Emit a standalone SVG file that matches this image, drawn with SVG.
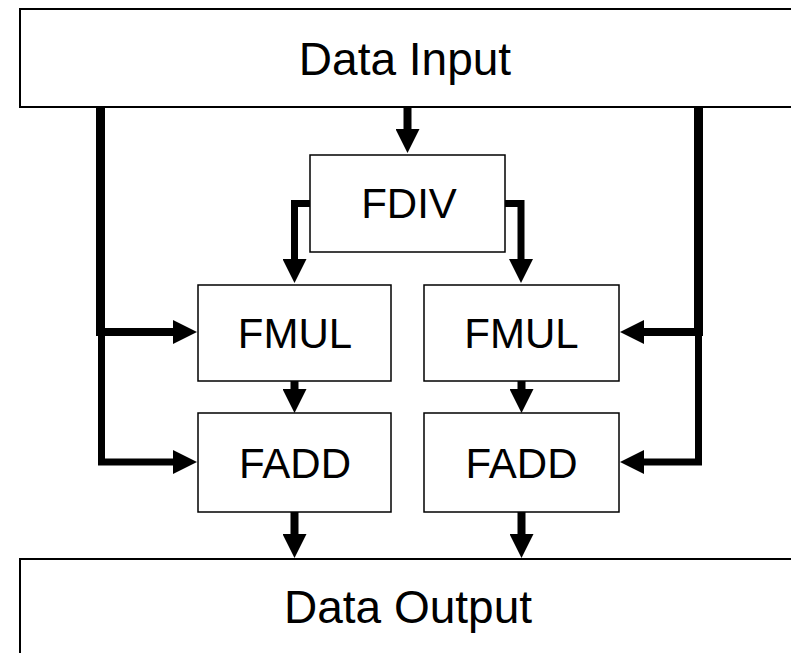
<svg xmlns="http://www.w3.org/2000/svg" width="791" height="653" viewBox="0 0 791 653">
  <style>
    .bus { fill: #fff; stroke: #000; stroke-width: 2; }
    .unit { fill: #fff; stroke: #000; stroke-width: 1.5; }
    .label { font-family: "Liberation Sans", Arial, sans-serif; fill: #000; text-anchor: middle; }
    .big { font-size: 46px; }
    .small { font-size: 42px; }
    .wire { fill: none; stroke: #000; stroke-linejoin: miter; stroke-linecap: butt; }
  </style>
  <defs>
    <marker id="head" viewBox="0 0 24 24" refX="2" refY="12" markerWidth="24" markerHeight="24" markerUnits="userSpaceOnUse" orient="auto">
      <path d="M0,0 L24,12 L0,24 z" fill="#000"/>
    </marker>
  </defs>
  <rect width="791" height="653" fill="#fff"/>

  <g id="data-input">
    <rect class="bus" x="20" y="9" width="790" height="98"/>
    <text class="label big" x="405" y="75">Data Input</text>
  </g>
  <g id="data-output">
    <rect class="bus" x="20" y="559" width="790" height="110"/>
    <text class="label big" x="408" y="623">Data Output</text>
  </g>
  <g id="fdiv">
    <rect class="unit" x="310" y="155" width="195" height="97"/>
    <text class="label small" x="409" y="218">FDIV</text>
  </g>
  <g id="fmul-left">
    <rect class="unit" x="198" y="285" width="193" height="96"/>
    <text class="label small" x="295" y="348">FMUL</text>
  </g>
  <g id="fmul-right">
    <rect class="unit" x="424" y="285" width="195" height="96"/>
    <text class="label small" x="521.5" y="348">FMUL</text>
  </g>
  <g id="fadd-left">
    <rect class="unit" x="198" y="413" width="193" height="99"/>
    <text class="label small" x="295" y="478">FADD</text>
  </g>
  <g id="fadd-right">
    <rect class="unit" x="424" y="413" width="195" height="99"/>
    <text class="label small" x="521.5" y="478">FADD</text>
  </g>

  <g id="connectors">
    <!-- input to divider -->
    <path class="wire" stroke-width="8" d="M407.5,107 V131" marker-end="url(#head)"/>
    <!-- divider to both multipliers -->
    <path class="wire" stroke-width="7" d="M310,203.5 H294.5 V261" marker-end="url(#head)"/>
    <path class="wire" stroke-width="7" d="M505,203.5 H521 V261" marker-end="url(#head)"/>
    <!-- left bypass bus -->
    <path class="wire" stroke-width="9" d="M100.5,107 V336"/>
    <path class="wire" stroke-width="8" d="M96,332 H175" marker-end="url(#head)"/>
    <path class="wire" stroke-width="7" d="M101.5,332 V462 H175" marker-end="url(#head)"/>
    <!-- right bypass bus -->
    <path class="wire" stroke-width="9" d="M698.5,107 V336"/>
    <path class="wire" stroke-width="8" d="M703,332 H642" marker-end="url(#head)"/>
    <path class="wire" stroke-width="7" d="M698.5,332 V462 H642" marker-end="url(#head)"/>
    <!-- multiplier to adder -->
    <path class="wire" stroke-width="8" d="M294.5,381 V391" marker-end="url(#head)"/>
    <path class="wire" stroke-width="8" d="M521.5,381 V391" marker-end="url(#head)"/>
    <!-- adder to output -->
    <path class="wire" stroke-width="8" d="M294.5,512 V536" marker-end="url(#head)"/>
    <path class="wire" stroke-width="8" d="M521.5,512 V536" marker-end="url(#head)"/>
  </g>
</svg>
